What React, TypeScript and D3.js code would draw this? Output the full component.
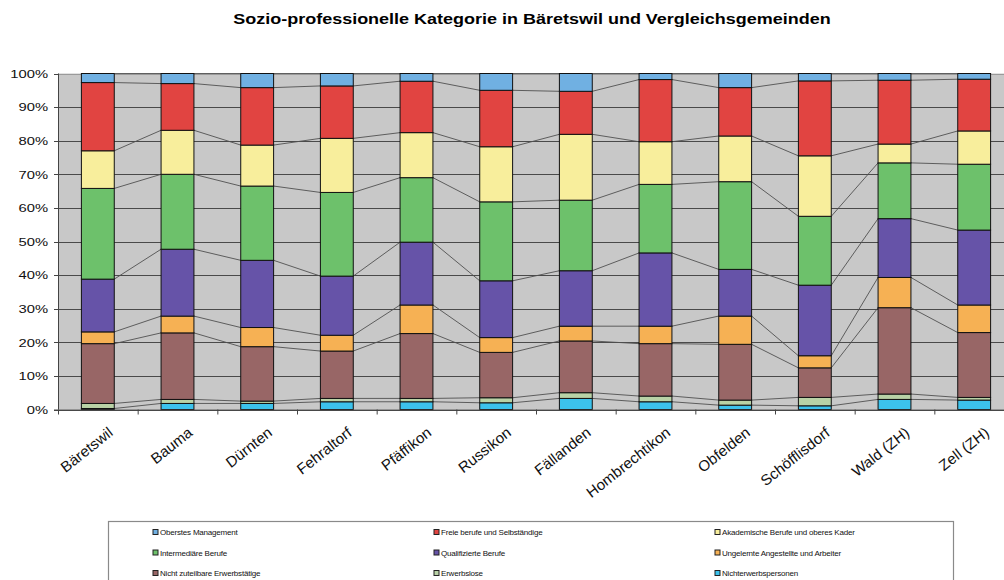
import React from "react";
import * as d3 from "d3";

const categories = ["Bäretswil", "Bauma", "Dürnten", "Fehraltorf", "Pfäffikon", "Russikon", "Fällanden", "Hombrechtikon", "Obfelden", "Schöfflisdorf", "Wald (ZH)", "Zell (ZH)"];

// bottom to top stacking order
const seriesNames = [
  "Nichterwerbspersonen",
  "Erwerbslose",
  "Nicht zuteilbare Erwerbstätige",
  "Ungelernte Angestellte und Arbeiter",
  "Qualifizierte Berufe",
  "Intermediäre Berufe",
  "Akademische Berufe und oberes Kader",
  "Freie berufe und Selbständige",
  "Oberstes Management",
];

const seriesColors = ["#3cc2ec", "#b9d2a6", "#986666", "#f6b154", "#6653a8", "#6dc16b", "#f8ee9c", "#e14441", "#70b0e2"];

const nichterwerbspersonen = [0.3, 1.8, 1.8, 2.3, 2.3, 2.0, 3.3, 2.3, 1.3, 1.1, 3.0, 2.8];
const erwerbslose = [1.5, 1.2, 0.7, 1.0, 1.0, 1.5, 1.7, 1.7, 1.5, 2.5, 1.6, 0.8];
const nichtZuteilbare = [17.8, 19.8, 16.2, 14.1, 19.3, 13.5, 15.4, 15.6, 16.6, 8.8, 25.7, 19.3];
const ungelernte = [3.5, 5.0, 5.7, 4.7, 8.5, 4.4, 4.4, 5.2, 8.4, 3.6, 9.0, 8.2];
const qualifizierte = [15.7, 19.9, 20.0, 17.6, 18.7, 16.9, 16.5, 21.8, 13.9, 21.0, 17.5, 22.3];
const intermediaere = [27.0, 22.3, 22.1, 24.9, 19.2, 23.5, 21.0, 20.4, 26.1, 20.5, 16.6, 19.6];
const akademische = [11.2, 13.1, 12.2, 16.1, 13.4, 16.4, 19.6, 12.7, 13.6, 18.0, 5.6, 9.9];
const freieBerufe = [20.3, 13.9, 17.1, 15.6, 15.3, 16.8, 12.8, 18.5, 14.4, 22.3, 19.0, 15.4];
const oberstesManagement = [2.7, 3.0, 4.2, 3.7, 2.3, 5.0, 5.3, 1.8, 4.2, 2.2, 2.0, 1.7];

const seriesValues = [nichterwerbspersonen, erwerbslose, nichtZuteilbare, ungelernte, qualifizierte, intermediaere, akademische, freieBerufe, oberstesManagement];

const yTicks = [0, 10, 20, 30, 40, 50, 60, 70, 80, 90, 100];

// legend in display order (3 columns, row-major)
const legendOrder = [8, 7, 6, 5, 4, 3, 2, 1, 0];

const W = 1004;
const H = 580;
const SX = 1.25;
const FONT = "'Liberation Sans', Arial, Helvetica, sans-serif";

export default function App() {
  const rows = categories.map((c, i) => {
    const r: any = { cat: c };
    seriesNames.forEach((s, k) => (r[s] = seriesValues[k][i]));
    return r;
  });
  const stacked = d3.stack<any>().keys(seriesNames)(rows);

  const left = 58;
  const right = 1014;
  const top = 73.5;
  const bottom = 409.5;

  const x = d3.scaleBand<string>().domain(categories).range([left, right]).paddingInner(0.5875).paddingOuter(0.29375);
  const y = d3.scaleLinear().domain([0, 100]).range([bottom, top]);
  const bw = x.bandwidth();
  const step = x.step();

  const legCols = [153, 434, 715];
  const legRows = [534, 554.5, 575];

  return (
    <svg width={W} height={H} style={{ position: "absolute", left: 0, top: 0, background: "#fff" }} fontFamily={FONT}>
      <rect x={0} y={0} width={W} height={H} fill="#ffffff" />
      <text transform={`translate(532,24) scale(${SX},1)`} textAnchor="middle" fontWeight="bold" fontSize={14.4} fill="#000">
        Sozio-professionelle Kategorie in Bäretswil und Vergleichsgemeinden
      </text>

      {/* plot area */}
      <rect x={left} y={top} width={right - left} height={bottom - top} fill="#c8c8c8" />
      {yTicks.map((t) => (
        <line key={"g" + t} x1={left} x2={right} y1={Math.round(y(t)) + 0.5} y2={Math.round(y(t)) + 0.5} stroke={t === 100 ? "#9a9a9a" : "#4a4a4a"} strokeWidth={1} />
      ))}

      {/* series lines */}
      {stacked.map((s, k) => (
        <g key={"sl" + k}>
          {s.slice(0, -1).map((d, i) => {
            const n = s[i + 1];
            return (
              <line
                key={i}
                x1={(x(categories[i]) as number) + bw}
                y1={y(d[1])}
                x2={x(categories[i + 1]) as number}
                y2={y(n[1])}
                stroke="#505050"
                strokeWidth={0.9}
              />
            );
          })}
        </g>
      ))}

      {/* bars */}
      {stacked.map((s, k) => (
        <g key={"b" + k} fill={seriesColors[k]} stroke="#111" strokeWidth={1}>
          {s.map((d, i) => (
            <rect key={i} x={x(categories[i]) as number} y={y(d[1])} width={bw} height={Math.max(0, y(d[0]) - y(d[1]))} />
          ))}
        </g>
      ))}

      {/* axes */}
      <line x1={left + 0.5} x2={left + 0.5} y1={top} y2={bottom} stroke="#444" />
      <line x1={left - 4} x2={right} y1={bottom + 0.5} y2={bottom + 0.5} stroke="#444" />
      {yTicks.map((t) => (
        <g key={"yt" + t}>
          <line x1={left - 4} x2={left} y1={Math.round(y(t)) + 0.5} y2={Math.round(y(t)) + 0.5} stroke="#444" />
          <text transform={`translate(${left - 10},${y(t) + 4.2}) scale(${SX},1)`} textAnchor="end" fontSize={11.8} fill="#111">
            {t}%
          </text>
        </g>
      ))}
      {d3.range(categories.length + 1).map((i) => (
        <line key={"xt" + i} x1={left + i * step + 0.5} x2={left + i * step + 0.5} y1={bottom} y2={bottom + 5} stroke="#444" />
      ))}
      {categories.map((c) => {
        const cx = (x(c) as number) + bw / 2;
        return (
          <text key={"xl" + c} transform={`translate(${cx + 16},${bottom + 25}) scale(${SX},1) rotate(-45) skewX(-14)`} textAnchor="end" fontSize={13.5} fill="#111">
            {c}
          </text>
        );
      })}

      {/* legend */}
      <rect x={108.5} y={521.5} width={845} height={80} fill="#fff" stroke="#8a8a8a" strokeWidth={1.2} />
      {legendOrder.map((k, j) => {
        const cx = legCols[j % 3];
        const cy = legRows[Math.floor(j / 3)];
        return (
          <g key={"lg" + k}>
            <rect x={cx} y={cy - 4.5} width={5} height={5} fill={seriesColors[k]} stroke="#222" strokeWidth={1} />
            <text x={cx + 7} y={cy + 1} fontSize={8} fill="#111" letterSpacing={-0.2}>
              {seriesNames[k]}
            </text>
          </g>
        );
      })}
    </svg>
  );
}
